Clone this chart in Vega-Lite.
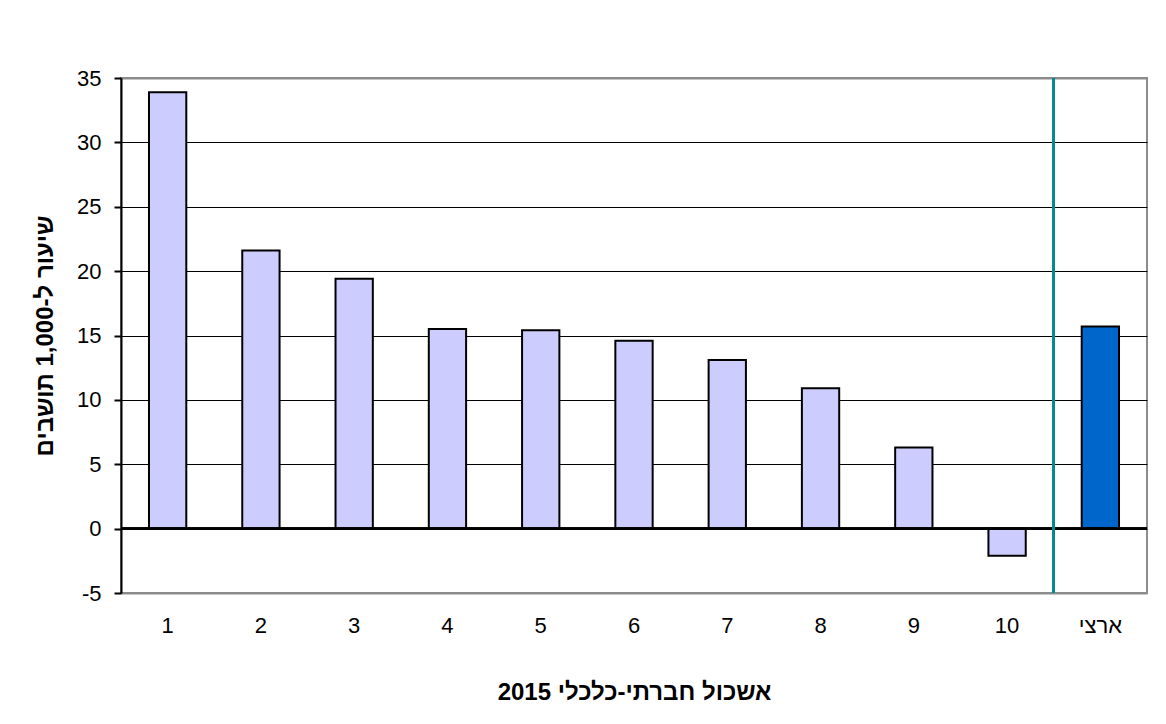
{
  "$schema": "https://vega.github.io/schema/vega-lite/v6.json",
  "width": 1026,
  "height": 515,
  "autosize": {"type": "none"},
  "padding": {"left": 121, "top": 78, "right": 19, "bottom": 131},
  "background": "white",
  "config": {
    "font": "Liberation Sans",
    "view": {"stroke": "#8c8c8c", "strokeWidth": 2}
  },
  "data": {
    "values": [
      {"cluster": "1", "rate": 33.9, "type": "cluster"},
      {"cluster": "2", "rate": 21.6, "type": "cluster"},
      {"cluster": "3", "rate": 19.4, "type": "cluster"},
      {"cluster": "4", "rate": 15.5, "type": "cluster"},
      {"cluster": "5", "rate": 15.4, "type": "cluster"},
      {"cluster": "6", "rate": 14.6, "type": "cluster"},
      {"cluster": "7", "rate": 13.1, "type": "cluster"},
      {"cluster": "8", "rate": 10.9, "type": "cluster"},
      {"cluster": "9", "rate": 6.3, "type": "cluster"},
      {"cluster": "10", "rate": -2.1, "type": "cluster"},
      {"cluster": "ארצי", "rate": 15.7, "type": "national"}
    ]
  },
  "layer": [
    {
      "mark": {"type": "bar", "width": {"band": 0.4}, "stroke": "black", "strokeWidth": 2},
      "encoding": {
        "x": {
          "field": "cluster",
          "type": "nominal",
          "sort": ["1", "2", "3", "4", "5", "6", "7", "8", "9", "10", "ארצי"],
          "scale": {"paddingInner": 0, "paddingOuter": 0},
          "axis": {
            "title": "אשכול חברתי-כלכלי 2015",
            "titleFont": "Liberation Sans",
            "titleFontSize": 24,
            "titleFontWeight": "bold",
            "titleColor": "black",
            "titleBaseline": "middle",
            "titleY": 99,
            "labelAngle": 0,
            "labelFontSize": 22,
            "labelColor": "black",
            "labelPadding": 22,
            "ticks": false,
            "domain": false,
            "grid": false
          }
        },
        "y": {
          "field": "rate",
          "type": "quantitative",
          "scale": {"domain": [-5, 35], "nice": false},
          "axis": {
            "title": "שיעור ל-1,000 תושבים",
            "titleFont": "Liberation Sans",
            "titleFontSize": 24,
            "titleFontWeight": "bold",
            "titleColor": "black",
            "titleBaseline": "middle",
            "titleX": -76,
            "values": [-5, 0, 5, 10, 15, 20, 25, 30, 35],
            "labelExpr": "'' + datum.value",
            "labelFontSize": 22,
            "labelColor": "black",
            "labelPadding": 13,
            "tickSize": 7,
            "tickColor": "black",
            "tickWidth": 2,
            "domainColor": "black",
            "domainWidth": 2,
            "grid": true,
            "gridColor": {"condition": {"test": "datum.value == 35 || datum.value == -5", "value": "#8c8c8c"}, "value": "black"},
            "gridWidth": {"condition": {"test": "datum.value == 35 || datum.value == -5", "value": 2}, "value": 1}
          }
        },
        "fill": {
          "field": "type",
          "type": "nominal",
          "scale": {"domain": ["cluster", "national"], "range": ["#CCCCFF", "#0066CC"]},
          "legend": null
        }
      }
    },
    {
      "mark": {"type": "rule", "color": "black", "strokeWidth": 2},
      "encoding": {"y": {"datum": 0}}
    },
    {
      "mark": {"type": "rule", "color": "#008B8B", "strokeWidth": 2},
      "encoding": {
        "x": {"datum": "ארצי", "type": "nominal", "bandPosition": 0}
      }
    }
  ]
}
